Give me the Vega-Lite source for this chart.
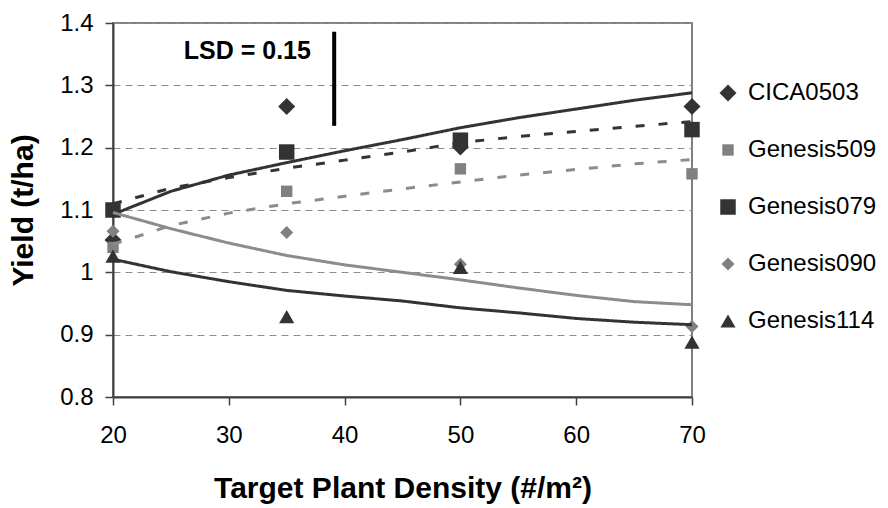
{
  "$schema": "https://vega.github.io/schema/vega-lite/v6.json",
  "width": 579,
  "height": 374,
  "autosize": "none",
  "padding": {"left": 113, "top": 23, "right": 196, "bottom": 111},
  "background": "white",
  "config": {
    "font": "Liberation Sans",
    "view": {"stroke": "#808080", "strokeWidth": 2},
    "axis": {
      "labelFont": "Liberation Sans",
      "titleFont": "Liberation Sans",
      "labelColor": "#000000",
      "titleColor": "#000000",
      "labelFontSize": 24,
      "titleFontSize": 30,
      "titleFontWeight": "bold",
      "domainColor": "#404040",
      "domainWidth": 2,
      "tickColor": "#404040",
      "tickWidth": 1.5,
      "tickSize": 8
    }
  },
  "datasets": {
    "obs": [
      {"series": "CICA0503", "x": 20, "y": 1.052},
      {"series": "CICA0503", "x": 35, "y": 1.266},
      {"series": "CICA0503", "x": 50, "y": 1.201},
      {"series": "CICA0503", "x": 70, "y": 1.266},
      {"series": "Genesis509", "x": 20, "y": 1.040},
      {"series": "Genesis509", "x": 35, "y": 1.130},
      {"series": "Genesis509", "x": 50, "y": 1.166},
      {"series": "Genesis509", "x": 70, "y": 1.158},
      {"series": "Genesis079", "x": 20, "y": 1.100},
      {"series": "Genesis079", "x": 35, "y": 1.193},
      {"series": "Genesis079", "x": 50, "y": 1.212},
      {"series": "Genesis079", "x": 70, "y": 1.229},
      {"series": "Genesis090", "x": 20, "y": 1.066},
      {"series": "Genesis090", "x": 35, "y": 1.064},
      {"series": "Genesis090", "x": 50, "y": 1.013},
      {"series": "Genesis090", "x": 70, "y": 0.913},
      {"series": "Genesis114", "x": 20, "y": 1.026},
      {"series": "Genesis114", "x": 35, "y": 0.929},
      {"series": "Genesis114", "x": 50, "y": 1.008},
      {"series": "Genesis114", "x": 70, "y": 0.888}
    ],
    "fit": [
      {"trend": "CICA0503", "x": 20, "y": 1.093},
      {"trend": "CICA0503", "x": 25, "y": 1.130},
      {"trend": "CICA0503", "x": 30, "y": 1.156},
      {"trend": "CICA0503", "x": 35, "y": 1.176},
      {"trend": "CICA0503", "x": 40, "y": 1.195},
      {"trend": "CICA0503", "x": 45, "y": 1.213},
      {"trend": "CICA0503", "x": 50, "y": 1.232},
      {"trend": "CICA0503", "x": 55, "y": 1.248},
      {"trend": "CICA0503", "x": 60, "y": 1.262},
      {"trend": "CICA0503", "x": 65, "y": 1.276},
      {"trend": "CICA0503", "x": 70, "y": 1.288},
      {"trend": "Genesis509", "x": 20, "y": 1.045},
      {"trend": "Genesis509", "x": 25, "y": 1.075},
      {"trend": "Genesis509", "x": 30, "y": 1.095},
      {"trend": "Genesis509", "x": 35, "y": 1.110},
      {"trend": "Genesis509", "x": 40, "y": 1.122},
      {"trend": "Genesis509", "x": 45, "y": 1.134},
      {"trend": "Genesis509", "x": 50, "y": 1.145},
      {"trend": "Genesis509", "x": 55, "y": 1.156},
      {"trend": "Genesis509", "x": 60, "y": 1.165},
      {"trend": "Genesis509", "x": 65, "y": 1.174},
      {"trend": "Genesis509", "x": 70, "y": 1.181},
      {"trend": "Genesis079", "x": 20, "y": 1.110},
      {"trend": "Genesis079", "x": 25, "y": 1.135},
      {"trend": "Genesis079", "x": 30, "y": 1.152},
      {"trend": "Genesis079", "x": 35, "y": 1.167},
      {"trend": "Genesis079", "x": 40, "y": 1.180},
      {"trend": "Genesis079", "x": 45, "y": 1.193},
      {"trend": "Genesis079", "x": 50, "y": 1.208},
      {"trend": "Genesis079", "x": 55, "y": 1.218},
      {"trend": "Genesis079", "x": 60, "y": 1.226},
      {"trend": "Genesis079", "x": 65, "y": 1.234},
      {"trend": "Genesis079", "x": 70, "y": 1.242},
      {"trend": "Genesis090", "x": 20, "y": 1.096},
      {"trend": "Genesis090", "x": 25, "y": 1.070},
      {"trend": "Genesis090", "x": 30, "y": 1.047},
      {"trend": "Genesis090", "x": 35, "y": 1.027},
      {"trend": "Genesis090", "x": 40, "y": 1.012},
      {"trend": "Genesis090", "x": 45, "y": 1.000},
      {"trend": "Genesis090", "x": 50, "y": 0.988},
      {"trend": "Genesis090", "x": 55, "y": 0.975},
      {"trend": "Genesis090", "x": 60, "y": 0.963},
      {"trend": "Genesis090", "x": 65, "y": 0.953},
      {"trend": "Genesis090", "x": 70, "y": 0.948},
      {"trend": "Genesis114", "x": 20, "y": 1.021},
      {"trend": "Genesis114", "x": 25, "y": 1.001},
      {"trend": "Genesis114", "x": 30, "y": 0.985},
      {"trend": "Genesis114", "x": 35, "y": 0.971},
      {"trend": "Genesis114", "x": 40, "y": 0.962},
      {"trend": "Genesis114", "x": 45, "y": 0.954},
      {"trend": "Genesis114", "x": 50, "y": 0.943},
      {"trend": "Genesis114", "x": 55, "y": 0.935},
      {"trend": "Genesis114", "x": 60, "y": 0.926},
      {"trend": "Genesis114", "x": 65, "y": 0.920},
      {"trend": "Genesis114", "x": 70, "y": 0.916}
    ],
    "lsd": [
      {"x": 39.1, "y": 1.235, "y2": 1.386, "label": "LSD = 0.15", "tx": 31.6, "ty": 1.355}
    ]
  },
  "encoding": {
    "x": {
      "field": "x",
      "type": "quantitative",
      "scale": {"domain": [20, 70], "nice": false, "zero": false},
      "axis": {
        "title": "Target Plant Density (#/m²)",
        "values": [20, 30, 40, 50, 60, 70],
        "grid": false,
        "labelPadding": 18,
        "titlePadding": 26,
        "labelFlush": false
      }
    },
    "y": {
      "field": "y",
      "type": "quantitative",
      "scale": {"domain": [0.8, 1.4], "nice": false, "zero": false},
      "axis": {
        "title": "Yield (t/ha)",
        "values": [0.8, 0.9, 1.0, 1.1, 1.2, 1.3, 1.4],
        "format": ".2~f",
        "grid": true,
        "gridColor": "#8c8c8c",
        "gridDash": [7, 5],
        "gridWidth": 1,
        "labelPadding": 12,
        "titlePadding": 21,
        "labelFlush": false
      }
    }
  },
  "layer": [
    {
      "data": {"name": "obs"},
      "mark": {"type": "point", "filled": true, "opacity": 1},
      "encoding": {
        "color": {
          "field": "series",
          "type": "nominal",
          "scale": {
            "domain": ["CICA0503", "Genesis509", "Genesis079", "Genesis090", "Genesis114"],
            "range": ["#333333", "#808080", "#333333", "#808080", "#333333"]
          },
          "legend": {
            "title": null, "orient": "none", "legendX": 603, "legendY": 58, "padding": 0,
            "labelFontSize": 24, "labelFont": "Liberation Sans", "labelColor": "#000000",
            "rowPadding": 33, "labelOffset": 8, "symbolStrokeWidth": 0, "symbolOpacity": 1
          }
        },
        "shape": {
          "field": "series",
          "type": "nominal",
          "scale": {
            "domain": ["CICA0503", "Genesis509", "Genesis079", "Genesis090", "Genesis114"],
            "range": ["diamond", "square", "square", "diamond", "triangle-up"]
          },
          "legend": {
            "title": null, "orient": "none", "legendX": 603, "legendY": 58, "padding": 0,
            "labelFontSize": 24, "labelFont": "Liberation Sans", "labelColor": "#000000",
            "rowPadding": 33, "labelOffset": 8, "symbolStrokeWidth": 0, "symbolOpacity": 1
          }
        },
        "size": {
          "field": "series",
          "type": "nominal",
          "scale": {
            "type": "ordinal",
            "domain": ["CICA0503", "Genesis509", "Genesis079", "Genesis090", "Genesis114"],
            "range": [289, 130, 240, 169, 230]
          },
          "legend": {
            "title": null, "orient": "none", "legendX": 603, "legendY": 58, "padding": 0,
            "labelFontSize": 24, "labelFont": "Liberation Sans", "labelColor": "#000000",
            "rowPadding": 33, "labelOffset": 8, "symbolStrokeWidth": 0, "symbolOpacity": 1
          }
        }
      }
    },
    {
      "data": {"name": "fit"},
      "mark": {"type": "line", "strokeWidth": 3},
      "encoding": {
        "detail": {"field": "trend", "type": "nominal"},
        "stroke": {
          "field": "trend",
          "type": "nominal",
          "scale": {
            "domain": ["CICA0503", "Genesis509", "Genesis079", "Genesis090", "Genesis114"],
            "range": ["#333333", "#8c8c8c", "#333333", "#8c8c8c", "#333333"]
          },
          "legend": null
        },
        "strokeDash": {
          "field": "trend",
          "type": "nominal",
          "scale": {
            "domain": ["CICA0503", "Genesis509", "Genesis079", "Genesis090", "Genesis114"],
            "range": [[1, 0], [9, 14], [9, 14], [1, 0], [1, 0]]
          },
          "legend": null
        }
      }
    },
    {
      "data": {"name": "lsd"},
      "mark": {"type": "rule", "color": "#000000", "strokeWidth": 4},
      "encoding": {
        "y2": {"field": "y2"}
      }
    },
    {
      "data": {"name": "lsd"},
      "mark": {"type": "text", "fontSize": 25, "fontWeight": "bold", "font": "Liberation Sans", "color": "#000000", "align": "center", "baseline": "middle"},
      "encoding": {
        "x": {"field": "tx", "type": "quantitative"},
        "y": {"field": "ty", "type": "quantitative"},
        "text": {"field": "label", "type": "nominal"}
      }
    }
  ]
}
